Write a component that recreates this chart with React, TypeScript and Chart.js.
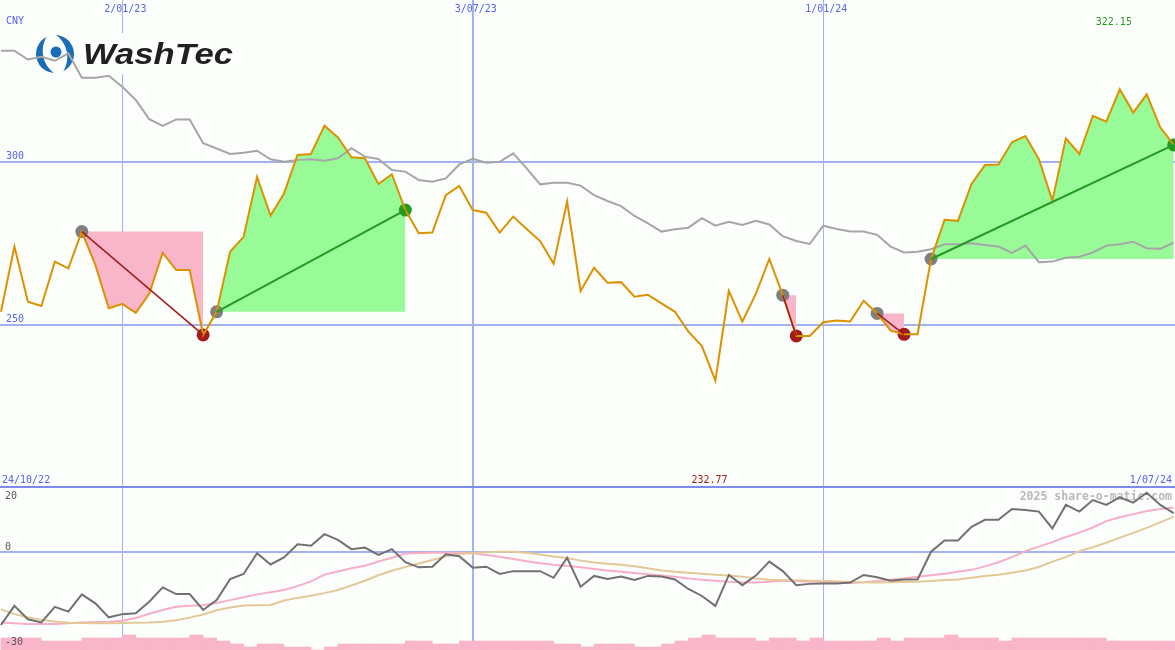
import React, { useEffect, useRef } from 'react';
import { Chart, registerables } from 'chart.js';

Chart.register(...registerables);

// ---------------- data ----------------
const priceValues = [
  253.9, 273.9, 257.0, 255.7, 269.3, 267.2, 278.5, 268.3, 255.0, 256.3,
  253.6, 259.4, 272.0, 266.7, 266.7, 246.8, 253.9, 272.3, 276.9, 295.3,
  283.4, 290.2, 302.0, 302.3, 311.0, 307.4, 301.3, 301.0, 293.1, 296.1,
  285.1, 278.0, 278.2, 289.7, 292.5, 285.1, 284.3, 278.2, 283.1, 279.3,
  275.6, 268.6, 287.7, 260.3, 267.4, 262.8, 263.0, 258.5, 259.1, 256.5,
  253.9, 247.8, 243.4, 232.77, 260.3, 250.9, 259.4, 270.1, 259.0, 246.5,
  246.5, 250.7, 251.2, 250.9, 257.3, 253.4, 248.1, 247.0, 247.0, 270.1,
  282.1, 281.8, 293.1, 298.9, 299.1, 305.9, 307.8, 300.7, 288.0, 307.1,
  302.3, 314.0, 312.2, 322.15, 315.0, 320.6, 310.5, 305.1,
];

const relativeValues = [
  334.0, 334.0, 331.3, 332.1, 330.9, 333.2, 325.7, 325.7, 326.3, 322.9,
  318.9, 313.0, 310.9, 312.9, 312.9, 305.6, 304.0, 302.3, 302.7, 303.3,
  300.7, 299.9, 300.5, 300.7, 300.2, 301.0, 304.1, 301.5, 300.8, 297.4,
  296.9, 294.3, 293.8, 294.8, 299.1, 300.8, 299.6, 299.9, 302.5, 297.9,
  293.0, 293.5, 293.5, 292.6, 289.7, 287.9, 286.3, 283.3, 281.0, 278.5,
  279.2, 279.7, 282.6, 280.3, 281.5, 280.5, 281.8, 280.7, 277.1, 275.6,
  274.7, 280.3, 279.3, 278.5, 278.5, 277.5, 273.9, 272.1, 272.3, 273.1,
  274.6, 274.6, 274.9, 274.4, 273.9, 272.0, 274.2, 269.1, 269.3, 270.5,
  270.8, 272.1, 274.2, 274.6, 275.4, 273.4, 273.2, 275.1,
];

const momentumValues = [
  -23.0, -17.0, -21.2, -22.2, -17.3, -18.8, -13.4, -16.2, -20.6, -19.6,
  -19.3, -15.7, -11.2, -13.3, -13.3, -18.3, -15.2, -8.6, -7.0, -0.5,
  -4.0, -1.8, 2.3, 1.9, 5.5, 3.7, 0.8, 1.3, -1.0, 0.8,
  -3.3, -4.9, -4.7, -0.8, -1.4, -5.0, -4.7, -7.0, -6.1, -6.1,
  -6.1, -8.2, -1.9, -11.0, -7.6, -8.6, -7.8, -8.9, -7.6, -7.8,
  -8.7, -11.7, -13.9, -17.0, -7.3, -10.5, -7.5, -3.1, -6.1, -10.5,
  -10.1, -10.0, -10.0, -9.7, -7.3, -8.0, -9.1, -8.7, -8.7, 0.0,
  3.5, 3.5, 7.8, 10.0, 10.0, 13.4, 13.1, 12.6, 7.3, 14.7,
  12.6, 16.2, 14.7, 17.1, 15.4, 18.5, 14.7, 12.1,
];

const fastAverage = [
  -22.2, -22.5, -22.7, -22.7, -22.7, -22.5, -22.2, -22.1, -22.0, -21.7,
  -20.8, -19.5, -18.3, -17.3, -17.0, -16.8, -16.1, -15.2, -14.3, -13.4,
  -12.7, -12.0, -10.8, -9.3, -7.2, -6.2, -5.2, -4.4, -3.1, -1.9,
  -0.6, -0.4, -0.3, -0.3, -0.4, -0.5, -1.0, -1.6, -2.3, -3.0,
  -3.6, -4.1, -4.4, -4.9, -5.4, -5.9, -6.3, -6.7, -7.1, -7.5,
  -7.9, -8.4, -8.8, -9.1, -9.4, -9.6, -9.7, -9.4, -9.1, -9.2,
  -9.4, -9.5, -9.7, -9.8, -9.6, -9.2, -8.8, -8.4, -7.9, -7.4,
  -6.9, -6.3, -5.7, -4.6, -3.3, -1.7, 0.2, 1.6, 3.0, 4.6,
  6.0, 7.6, 9.6, 10.8, 11.8, 12.8, 13.4, 13.9,
];

const slowAverage = [
  -18.1, -19.6, -20.6, -21.4, -21.9, -22.3, -22.4, -22.5, -22.5, -22.4,
  -22.3, -22.2, -22.0, -21.5, -20.7, -19.7, -18.4, -17.5, -16.9, -16.8,
  -16.7, -15.3, -14.5, -13.8, -13.0, -12.0, -10.6, -9.1, -7.4, -6.0,
  -4.8, -3.7, -2.6, -1.4, -0.7, -0.4, -0.2, 0.0, 0.0, -0.3,
  -0.9, -1.5, -2.0, -2.8, -3.4, -3.8, -4.1, -4.6, -5.2, -5.9,
  -6.3, -6.6, -6.9, -7.2, -7.5, -7.9, -8.4, -8.8, -9.0, -9.0,
  -9.1, -9.2, -9.3, -9.5, -9.6, -9.7, -9.6, -9.5, -9.4, -9.2,
  -8.9, -8.7, -8.2, -7.6, -7.2, -6.6, -5.9, -4.8, -3.1, -1.7,
  0.2, 1.4, 2.8, 4.4, 5.9, 7.5, 9.2, 11.0,
];

const volumeLevels = [
  4, 4, 4, 3, 3, 3, 4, 4, 4, 5,
  4, 4, 4, 4, 5, 4, 3, 2, 1, 2,
  2, 1, 1, 0, 1, 2, 2, 2, 2, 2,
  3, 3, 2, 2, 3, 3, 3, 3, 3, 3,
  3, 2, 2, 1, 2, 2, 2, 1, 1, 2,
  3, 4, 5, 4, 4, 4, 3, 4, 4, 3,
  4, 3, 3, 3, 3, 4, 3, 4, 4, 4,
  5, 4, 4, 4, 3, 4, 4, 4, 4, 4,
  4, 4, 3, 3, 3, 3, 3, 3,
];

const dateTickIndices = [9, 35, 61];
const dateTickLabels = ['2/01/23', '3/07/23', '1/01/24'];
const dateTickWidths = [1, 2, 1];
const priceGridValues = [300, 250];
const priceGridLabels = ['300', '250'];
const oscGridValues = [0];
const oscLabelValues = [20, 0, -30];
const oscLabels = ['20', '0', '-30'];
const startDateLabel = '24/10/22';
const endDateLabel = '1/07/24';
const currencyLabel = 'CNY';
const watermarkText = '2025 share-o-matic.com';
const lossSegments = [[6, 15], [58, 59], [65, 67]];
const gainSegments = [[16, 30], [69, 87]];

// ---------------- styles ----------------
const W = 1175;
const TOP_H = 488;
const BOT_H = 162;
const BG = '#FCFEFC';
const GRID = '#A3B1F1';
const SEP = '#7D8BEE';
const LABEL_BLUE = '#5563EE';
const PINK = '#F9B5C9';
const GREEN_FILL = '#98FB98';
const ORANGE = '#DC9200';
const REL_GRAY = '#A6A6A6';
const DARK_RED = '#A31A1A';
const DARK_GREEN = '#239B23';
const MARK_GRAY = '#7F7F7F';
const MOM_GRAY = '#717171';
const FAST_PINK = '#F8AEC6';
const SLOW_TAN = '#E3C998';
const LOGO_BLUE = '#1C6DB8';
const FONT = '10px "DejaVu Sans Mono", monospace';
const PX_PER_IDX = 13.48;
const X_MIN = -0.07;
const X_MAX = X_MIN + W / PX_PER_IDX;

const toPts = (arr: number[]) => arr.map((y, i) => ({ x: i, y }));
const segPts = (s: number, e: number) =>
  priceValues.slice(s, e + 1).map((y, k) => ({ x: s + k, y }));

function drawCrescent(
  ctx: CanvasRenderingContext2D,
  cx: number,
  cy: number,
  theta: number
) {
  const R = 19;
  const d = 15.4;
  const r = 27.4;
  const ix = cx - d * Math.cos(theta);
  const iy = cy - d * Math.sin(theta);
  ctx.save();
  ctx.beginPath();
  ctx.arc(cx, cy, R, 0, Math.PI * 2);
  ctx.clip();
  ctx.beginPath();
  ctx.rect(cx - 40, cy - 40, 80, 80);
  ctx.arc(ix, iy, r, 0, Math.PI * 2);
  ctx.fillStyle = LOGO_BLUE;
  ctx.fill('evenodd');
  ctx.restore();
}

function drawLogo(ctx: CanvasRenderingContext2D) {
  ctx.save();
  ctx.fillStyle = BG;
  ctx.fillRect(33, 33, 205, 41);
  const cx = 55;
  const cy = 54;
  drawCrescent(ctx, cx, cy, Math.PI - 0.2);
  drawCrescent(ctx, cx, cy, -0.2);
  ctx.fillStyle = LOGO_BLUE;
  ctx.beginPath();
  ctx.arc(cx + 1, cy - 2, 5.5, 0, Math.PI * 2);
  ctx.fill();
  ctx.font = 'italic bold 29px "Liberation Sans", Arial, sans-serif';
  const m = ctx.measureText('WashTec').width;
  ctx.translate(83, 64);
  ctx.scale(150 / m, 1);
  ctx.fillStyle = '#231F20';
  ctx.textBaseline = 'alphabetic';
  ctx.fillText('WashTec', 0, 0);
  ctx.restore();
}

function drawVerticals(chart: any) {
  const { ctx, scales } = chart;
  dateTickIndices.forEach((d, k) => {
    const w = dateTickWidths[k];
    const px = scales.x.getPixelForValue(d);
    ctx.fillStyle = GRID;
    ctx.fillRect(Math.round(px - w / 2), 0, w, chart.height);
  });
}

const topDecor = {
  id: 'topDecor',
  beforeDraw(chart: any) {
    const { ctx, scales } = chart;
    ctx.save();
    ctx.fillStyle = BG;
    ctx.fillRect(0, 0, chart.width, chart.height);
    priceGridValues.forEach((v) => {
      const py = scales.y.getPixelForValue(v);
      ctx.fillStyle = GRID;
      ctx.fillRect(0, Math.round(py - 1), chart.width, 2);
    });
    drawVerticals(chart);
    ctx.fillStyle = SEP;
    ctx.fillRect(0, chart.height - 2, chart.width, 2);
    ctx.restore();
    drawLogo(ctx);
  },
  afterDatasetsDraw(chart: any) {
    const { ctx, scales } = chart;
    ctx.save();
    ctx.font = FONT;
    ctx.textBaseline = 'alphabetic';
    ctx.fillStyle = LABEL_BLUE;
    ctx.textAlign = 'left';
    ctx.fillText(currencyLabel, 6, 24);
    priceGridValues.forEach((v, k) => {
      ctx.fillText(priceGridLabels[k], 6, scales.y.getPixelForValue(v) - 2.5);
    });
    dateTickIndices.forEach((d, k) => {
      ctx.fillText(dateTickLabels[k], scales.x.getPixelForValue(d) - 18, 12);
    });
    ctx.fillText(startDateLabel, 2, chart.height - 5);
    ctx.textAlign = 'right';
    ctx.fillText(endDateLabel, 1172, chart.height - 5);
    ctx.textAlign = 'left';
    const maxV = Math.max(...priceValues);
    const minV = Math.min(...priceValues);
    const maxI = priceValues.indexOf(maxV);
    const minI = priceValues.indexOf(minV);
    ctx.fillStyle = DARK_GREEN;
    ctx.fillText(maxV.toFixed(2), scales.x.getPixelForValue(maxI) - 24, 25);
    ctx.fillStyle = DARK_RED;
    ctx.fillText(minV.toFixed(2), scales.x.getPixelForValue(minI) - 24, chart.height - 5);
    ctx.restore();
  },
};

const bottomDecor = {
  id: 'bottomDecor',
  beforeDraw(chart: any) {
    const { ctx, scales } = chart;
    ctx.save();
    ctx.fillStyle = BG;
    ctx.fillRect(0, 0, chart.width, chart.height);
    oscGridValues.forEach((v) => {
      const py = scales.y.getPixelForValue(v);
      ctx.fillStyle = GRID;
      ctx.fillRect(0, Math.round(py - 1), chart.width, 2);
    });
    drawVerticals(chart);
    ctx.font = 'bold 11.5px "DejaVu Sans Mono", monospace';
    ctx.fillStyle = '#B9B9B9';
    ctx.textAlign = 'right';
    ctx.textBaseline = 'alphabetic';
    ctx.fillText(watermarkText, 1172, 12);
    ctx.restore();
  },
  afterDatasetsDraw(chart: any) {
    const { ctx, scales } = chart;
    ctx.save();
    ctx.font = FONT;
    ctx.textBaseline = 'alphabetic';
    ctx.fillStyle = '#555555';
    ctx.textAlign = 'left';
    oscLabelValues.forEach((v, k) => {
      const py = scales.y.getPixelForValue(v);
      const base = k === 0 ? py + 11 : py - 2;
      ctx.fillText(oscLabels[k], 5, base);
    });
    ctx.restore();
  },
};

function baseOptions(yScales: any) {
  return {
    animation: false,
    responsive: false,
    maintainAspectRatio: false,
    devicePixelRatio: 1,
    events: [],
    layout: { padding: 0, autoPadding: false },
    plugins: { legend: { display: false }, tooltip: { enabled: false } },
    elements: { point: { radius: 0 }, line: { tension: 0 } },
    scales: {
      x: {
        type: 'linear',
        display: false,
        offset: false,
        grid: { offset: false },
        bounds: 'ticks',
        min: X_MIN,
        max: X_MAX,
      },
      ...yScales,
    },
  };
}

function topConfig(): any {
  const datasets: any[] = [];
  lossSegments.forEach(([s, e]) => {
    datasets.push({
      data: segPts(s, e),
      fill: { value: priceValues[s] },
      backgroundColor: PINK,
      borderWidth: 0,
      borderColor: 'rgba(0,0,0,0)',
      pointRadius: 0,
      order: 20,
    });
  });
  gainSegments.forEach(([s, e]) => {
    datasets.push({
      data: segPts(s, e),
      fill: { value: priceValues[s] },
      backgroundColor: GREEN_FILL,
      borderWidth: 0,
      borderColor: 'rgba(0,0,0,0)',
      pointRadius: 0,
      order: 20,
    });
  });
  datasets.push({
    data: toPts(relativeValues),
    borderColor: REL_GRAY,
    borderWidth: 2,
    fill: false,
    pointRadius: 0,
    order: 15,
  });
  const allSegs = [
    ...lossSegments.map((s) => ({ s, loss: true })),
    ...gainSegments.map((s) => ({ s, loss: false })),
  ];
  datasets.push({
    data: allSegs.map(({ s }) => ({ x: s[0], y: priceValues[s[0]] })),
    showLine: false,
    pointRadius: 6.5,
    pointBackgroundColor: MARK_GRAY,
    pointBorderWidth: 0,
    order: 12,
  });
  datasets.push({
    data: allSegs.map(({ s }) => ({ x: s[1], y: priceValues[s[1]] })),
    showLine: false,
    pointRadius: 6.5,
    pointBackgroundColor: allSegs.map(({ loss }) => (loss ? DARK_RED : DARK_GREEN)),
    pointBorderWidth: 0,
    order: 12,
  });
  datasets.push({
    data: toPts(priceValues),
    borderColor: ORANGE,
    borderWidth: 2,
    fill: false,
    pointRadius: 0,
    order: 8,
  });
  allSegs.forEach(({ s, loss }) => {
    datasets.push({
      data: [
        { x: s[0], y: priceValues[s[0]] },
        { x: s[1], y: priceValues[s[1]] },
      ],
      borderColor: loss ? DARK_RED : DARK_GREEN,
      borderWidth: loss ? 1.5 : 2,
      fill: false,
      pointRadius: 0,
      order: 5,
    });
  });
  return {
    type: 'line',
    data: { datasets },
    options: baseOptions({
      y: { type: 'linear', display: false, min: 199.85, max: 349.54 },
    }),
    plugins: [topDecor],
  };
}

function bottomConfig(): any {
  const datasets: any[] = [
    {
      type: 'bar',
      data: volumeLevels.map((v, k) => ({ x: k + 0.5, y: v })),
      yAxisID: 'yv',
      backgroundColor: PINK,
      borderWidth: 0,
      barPercentage: 1,
      categoryPercentage: 1,
      order: 20,
    },
    {
      type: 'line',
      data: toPts(fastAverage),
      yAxisID: 'y',
      borderColor: FAST_PINK,
      borderWidth: 2,
      fill: false,
      pointRadius: 0,
      order: 12,
    },
    {
      type: 'line',
      data: toPts(slowAverage),
      yAxisID: 'y',
      borderColor: SLOW_TAN,
      borderWidth: 2,
      fill: false,
      pointRadius: 0,
      order: 10,
    },
    {
      type: 'line',
      data: toPts(momentumValues),
      yAxisID: 'y',
      borderColor: MOM_GRAY,
      borderWidth: 2,
      fill: false,
      pointRadius: 0,
      order: 5,
    },
  ];
  return {
    type: 'line',
    data: { datasets },
    options: baseOptions({
      y: { type: 'linear', display: false, min: -30.86, max: 20.0 },
      yv: { type: 'linear', display: false, min: 0, max: 54 },
    }),
    plugins: [bottomDecor],
  };
}

export default function App() {
  const topRef = useRef<HTMLCanvasElement>(null);
  const botRef = useRef<HTMLCanvasElement>(null);
  useEffect(() => {
    const top = new Chart(topRef.current as HTMLCanvasElement, topConfig());
    const bot = new Chart(botRef.current as HTMLCanvasElement, bottomConfig());
    return () => {
      top.destroy();
      bot.destroy();
    };
  }, []);
  return (
    <div
      style={{
        position: 'fixed',
        left: 0,
        top: 0,
        width: W,
        height: TOP_H + BOT_H,
        background: BG,
        overflow: 'hidden',
      }}
    >
      <canvas
        ref={topRef}
        width={W}
        height={TOP_H}
        style={{ display: 'block', width: W, height: TOP_H }}
      />
      <canvas
        ref={botRef}
        width={W}
        height={BOT_H}
        style={{ display: 'block', width: W, height: BOT_H }}
      />
    </div>
  );
}
